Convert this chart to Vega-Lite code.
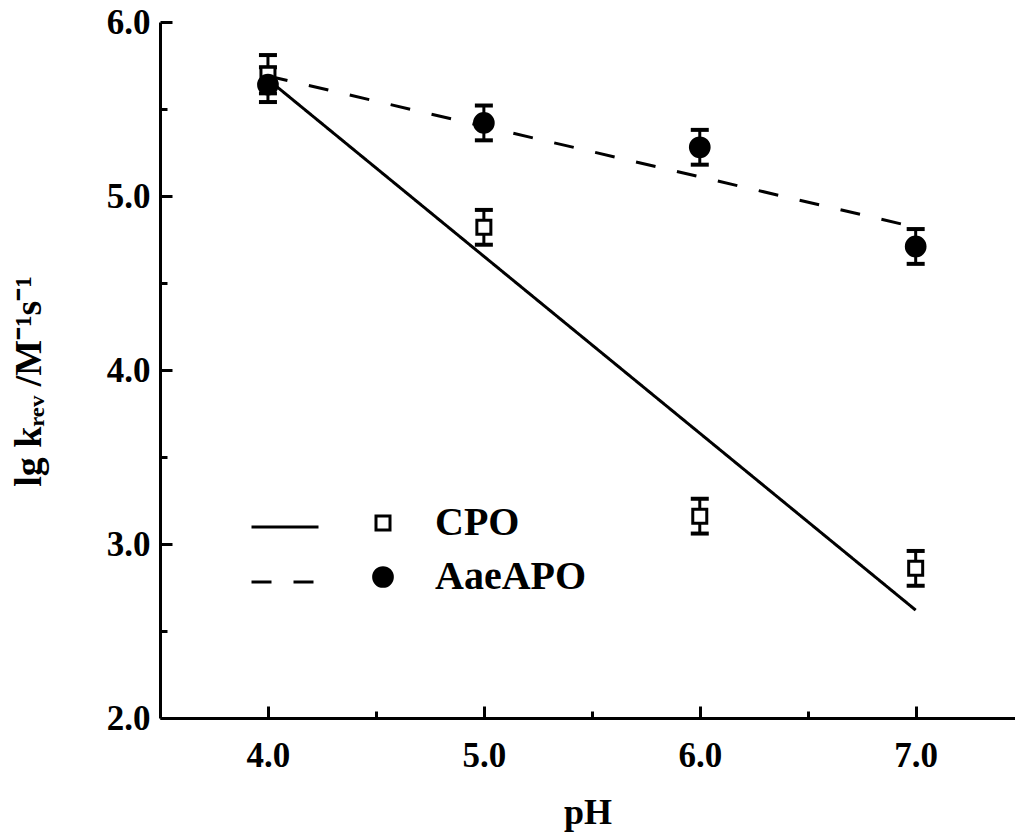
{
  "$schema": "https://vega.github.io/schema/vega-lite/v6.json",
  "width": 855,
  "height": 696,
  "autosize": {"type": "none"},
  "padding": {"left": 160, "top": 22, "right": 0, "bottom": 121},
  "background": "white",
  "config": {
    "view": {"stroke": null},
    "font": "Liberation Serif",
    "axis": {
      "domainColor": "black",
      "domainWidth": 3,
      "tickColor": "black",
      "tickWidth": 3,
      "labelFont": "Liberation Serif",
      "labelFontWeight": "bold",
      "labelFontSize": 35,
      "labelColor": "black",
      "titleFont": "Liberation Serif",
      "titleFontWeight": "bold",
      "titleColor": "black",
      "grid": false
    },
    "legend": {
      "labelFont": "Liberation Serif",
      "labelFontWeight": "bold",
      "labelColor": "black"
    }
  },
  "datasets": {
    "points": [
      {"series": "CPO", "pH": 4, "lgk": 5.70, "err": 0.11},
      {"series": "CPO", "pH": 5, "lgk": 4.82, "err": 0.10},
      {"series": "CPO", "pH": 6, "lgk": 3.16, "err": 0.10},
      {"series": "CPO", "pH": 7, "lgk": 2.86, "err": 0.10},
      {"series": "AaeAPO", "pH": 4, "lgk": 5.64, "err": 0.10},
      {"series": "AaeAPO", "pH": 5, "lgk": 5.42, "err": 0.10},
      {"series": "AaeAPO", "pH": 6, "lgk": 5.28, "err": 0.10},
      {"series": "AaeAPO", "pH": 7, "lgk": 4.71, "err": 0.10}
    ],
    "fits": [
      {"fit": "CPO fit", "pH": 4, "lgk": 5.67},
      {"fit": "CPO fit", "pH": 7, "lgk": 2.62},
      {"fit": "AaeAPO fit", "pH": 4, "lgk": 5.69},
      {"fit": "AaeAPO fit", "pH": 7, "lgk": 4.82}
    ]
  },
  "resolve": {"axis": {"x": "independent", "y": "independent"}},
  "layer": [
    {
      "data": {"name": "fits"},
      "mark": {"type": "line", "color": "black", "strokeWidth": 3},
      "encoding": {
        "x": {
          "field": "pH",
          "type": "quantitative",
          "scale": {"domain": [3.5, 7.46], "nice": false, "zero": false},
          "axis": {
            "orient": "bottom",
            "title": "pH",
            "titleFontSize": 36,
            "titlePadding": 22,
            "values": [4, 5, 6, 7],
            "format": ".1f",
            "tickSize": -12,
            "labelPadding": 32,
            "labelFlush": false,
            "labelOverlap": false
          }
        },
        "y": {
          "field": "lgk",
          "type": "quantitative",
          "scale": {"domain": [2, 6], "nice": false, "zero": false},
          "axis": {
            "orient": "left",
            "title": "lg kᵣₑᵥ /M⁻¹s⁻¹",
            "titleFontSize": 38,
            "titlePadding": 58,
            "titleY": 359,
            "values": [2, 3, 4, 5, 6],
            "format": ".1f",
            "tickSize": -12,
            "labelPadding": 22,
            "labelFlush": false,
            "labelOverlap": false
          }
        },
        "strokeDash": {
          "field": "fit",
          "type": "nominal",
          "scale": {"domain": ["CPO fit", "AaeAPO fit"], "range": [[1, 0], [20, 22]]},
          "legend": {
            "orient": "none",
            "legendX": 90,
            "legendY": 470,
            "title": null,
            "padding": 0,
            "labelExpr": "''",
            "symbolType": "stroke",
            "symbolSize": 4489,
            "symbolStrokeColor": "black",
            "symbolStrokeWidth": 3,
            "rowPadding": -13,
            "labelFontSize": 40
          }
        }
      }
    },
    {
      "data": {"name": "points"},
      "mark": {
        "type": "errorbar",
        "color": "black",
        "opacity": 1,
        "thickness": 3,
        "size": 18,
        "rule": {"color": "black", "opacity": 1, "strokeWidth": 3},
        "ticks": {"thickness": 4, "color": "black", "opacity": 1}
      },
      "encoding": {
        "x": {"field": "pH", "type": "quantitative", "axis": null},
        "y": {"field": "lgk", "type": "quantitative", "axis": null},
        "yError": {"field": "err"}
      }
    },
    {
      "data": {"name": "points"},
      "mark": {"type": "point", "stroke": "black", "strokeWidth": 3, "opacity": 1},
      "encoding": {
        "x": {
          "field": "pH",
          "type": "quantitative",
          "axis": {
            "orient": "bottom",
            "title": null,
            "values": [4.5, 5.5, 6.5],
            "tickSize": -7,
            "labels": false,
            "domain": false
          }
        },
        "y": {
          "field": "lgk",
          "type": "quantitative",
          "axis": {
            "orient": "left",
            "title": null,
            "values": [2.5, 3.5, 4.5, 5.5],
            "tickSize": -7,
            "labels": false,
            "domain": false
          }
        },
        "shape": {
          "field": "series",
          "type": "nominal",
          "scale": {"domain": ["CPO", "AaeAPO"], "range": ["square", "circle"]},
          "legend": {
            "orient": "none",
            "legendX": 203,
            "legendY": 481,
            "title": null,
            "padding": 0,
            "labelFontSize": 40,
            "labelOffset": 32,
            "rowPadding": 14,
            "symbolStrokeColor": "black",
            "symbolStrokeWidth": 3,
            "symbolOpacity": 1,
            "labelExpr": "datum.value == 'CPO' ? '\u2009\u2009CPO' : datum.label",
            "encoding": {"symbols": {"stroke": {"value": "black"}, "strokeWidth": {"value": 3}, "opacity": {"value": 1}}}
          }
        },
        "fill": {
          "field": "series",
          "type": "nominal",
          "scale": {"domain": ["CPO", "AaeAPO"], "range": ["white", "black"]},
          "legend": {
            "orient": "none",
            "legendX": 203,
            "legendY": 481,
            "title": null,
            "padding": 0,
            "labelFontSize": 40,
            "labelOffset": 32,
            "rowPadding": 14,
            "symbolStrokeColor": "black",
            "symbolStrokeWidth": 3,
            "symbolOpacity": 1,
            "labelExpr": "datum.value == 'CPO' ? '\u2009\u2009CPO' : datum.label",
            "encoding": {"symbols": {"stroke": {"value": "black"}, "strokeWidth": {"value": 3}, "opacity": {"value": 1}}}
          }
        },
        "size": {
          "field": "series",
          "type": "nominal",
          "scale": {"domain": ["CPO", "AaeAPO"], "range": [196, 350]},
          "legend": {
            "orient": "none",
            "legendX": 203,
            "legendY": 481,
            "title": null,
            "padding": 0,
            "labelFontSize": 40,
            "labelOffset": 32,
            "rowPadding": 14,
            "symbolStrokeColor": "black",
            "symbolStrokeWidth": 3,
            "symbolOpacity": 1,
            "labelExpr": "datum.value == 'CPO' ? '\u2009\u2009CPO' : datum.label",
            "encoding": {"symbols": {"stroke": {"value": "black"}, "strokeWidth": {"value": 3}, "opacity": {"value": 1}}}
          }
        }
      }
    }
  ]
}
